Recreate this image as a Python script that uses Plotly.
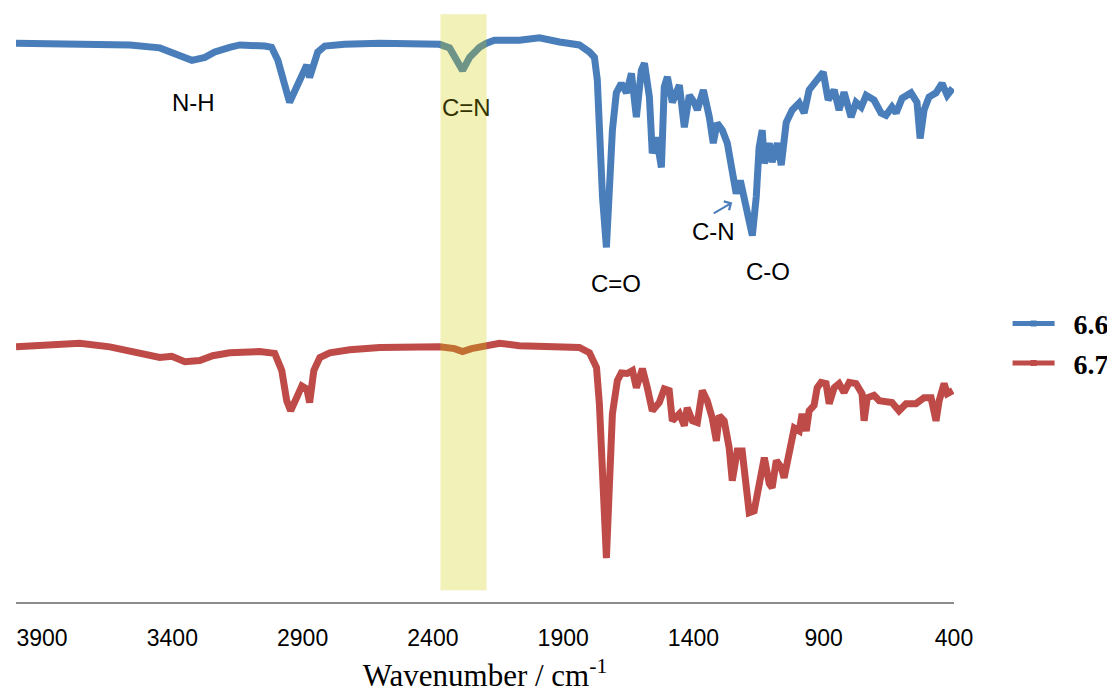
import plotly.graph_objects as go

# FTIR spectra, offset for clarity (transmittance in arbitrary units)
wn_66 = [4000, 3563, 3448, 3390, 3325, 3275, 3237, 3180, 3141, 3045, 3019, 2995,
         2969, 2950, 2923, 2900, 2884, 2873, 2857, 2842, 2815, 2739, 2604, 2374,
         2336, 2309, 2286, 2259, 2221, 2194, 2164, 2068, 1991, 1914, 1838, 1799,
         1780, 1769, 1761, 1749, 1734, 1723, 1711, 1696, 1677, 1657, 1638, 1619,
         1600, 1588, 1569, 1558, 1542, 1523, 1512, 1500, 1481, 1454, 1435, 1416,
         1397, 1385, 1362, 1339, 1324, 1309, 1289, 1270, 1251, 1236, 1220, 1205,
         1186, 1174, 1159, 1148, 1136, 1128, 1109, 1098, 1078, 1063, 1044, 1021,
         994, 975, 956, 925, 902, 883, 860, 841, 822, 795, 776, 756, 737, 707,
         680, 661, 638, 622, 599, 565, 542, 530, 515, 496, 469, 446, 426, 405]
t_66 = [94.4, 94.1, 93.6, 92.7, 91.5, 92.0, 92.9, 93.7, 94.1, 93.9, 93.7, 91.5,
        87.6, 84.4, 87.0, 89.5, 90.7, 88.6, 90.4, 92.9, 93.9, 94.2, 94.4, 94.2,
        93.6, 91.5, 89.8, 92.0, 93.7, 94.4, 94.9, 94.9, 95.3, 94.6, 94.1, 92.9,
        92.0, 88.2, 79.7, 68.4, 59.9, 68.4, 79.7, 86.0, 87.6, 86.0, 89.3, 81.9,
        89.8, 91.0, 85.3, 75.8, 78.5, 73.4, 87.0, 88.7, 84.4, 87.3, 80.2, 85.6,
        84.4, 83.1, 86.5, 81.9, 77.5, 80.9, 79.7, 77.5, 71.7, 69.0, 71.2, 67.9,
        64.0, 61.9, 68.4, 76.8, 79.7, 74.1, 77.5, 74.3, 77.5, 73.8, 81.0, 83.1,
        84.3, 82.6, 86.5, 88.2, 89.5, 84.8, 86.5, 83.1, 86.1, 81.9, 84.4, 83.6,
        85.6, 84.8, 82.6, 82.2, 83.6, 82.6, 85.1, 86.0, 84.4, 78.3, 83.1, 85.3,
        86.0, 87.6, 85.6, 86.8]

wn_67 = [4000, 3870, 3755, 3640, 3525, 3448, 3402, 3352, 3295, 3245, 3180, 3065,
         3007, 2980, 2961, 2946, 2923, 2903, 2884, 2873, 2857, 2834, 2796, 2719,
         2604, 2374, 2317, 2286, 2252, 2183, 2144, 2068, 1914, 1838, 1799, 1772,
         1761, 1749, 1734, 1723, 1711, 1692, 1677, 1654, 1634, 1619, 1596, 1577,
         1558, 1531, 1512, 1493, 1481, 1454, 1435, 1424, 1404, 1385, 1366, 1347,
         1328, 1312, 1301, 1282, 1263, 1251, 1232, 1213, 1194, 1186, 1167, 1148,
         1128, 1109, 1098, 1082, 1063, 1052, 1032, 1013, 994, 983, 967, 956,
         937, 925, 910, 891, 879, 860, 841, 822, 802, 776, 753, 745, 733,
         707, 687, 638, 611, 584, 546, 515, 488, 469, 457, 438, 426, 405]
t_67 = [43.1, 43.5, 43.7, 43.1, 42.1, 41.3, 41.5, 40.6, 40.8, 41.6, 42.1, 42.3,
        42.0, 39.1, 34.0, 32.3, 34.5, 36.5, 36.0, 33.7, 39.1, 41.3, 42.1, 42.6,
        43.0, 43.1, 42.8, 42.3, 42.8, 43.5, 43.7, 43.3, 43.1, 43.0, 42.1, 39.6,
        33.5, 19.3, 7.4, 19.3, 31.8, 37.4, 38.7, 38.6, 39.1, 36.2, 39.4, 36.2,
        32.3, 33.7, 36.0, 35.7, 30.6, 31.8, 29.8, 32.8, 30.6, 30.3, 35.7, 34.0,
        31.1, 27.2, 31.5, 30.6, 26.1, 20.5, 25.5, 25.5, 16.6, 15.1, 15.4, 20.5,
        24.4, 20.0, 19.3, 23.9, 22.7, 21.0, 26.1, 29.4, 28.9, 31.8, 28.9, 32.3,
        33.2, 36.2, 37.1, 36.9, 33.5, 36.2, 36.9, 35.4, 37.1, 36.9, 35.2, 30.6,
        34.5, 34.9, 34.0, 33.7, 32.3, 33.5, 33.5, 34.5, 34.5, 30.6, 34.0, 36.9,
        35.2, 35.7]

series_names = ["6.6", "6.7"]
tick_vals = [3900, 3400, 2900, 2400, 1900, 1400, 900, 400]

# band labels: (text, wavenumber, transmittance)
bands = [("N-H", 3320, 84.4), ("C=N", 2271, 83.6), ("C=O", 1696, 53.8),
         ("C-N", 1324, 62.6), ("C-O", 1113, 55.8)]

BLUE = "#4a7ebb"
RED = "#be4b48"

fig = go.Figure()
fig.add_trace(go.Scatter(x=wn_66, y=t_66, mode="lines", line=dict(color=BLUE, width=7),
                         showlegend=False))
fig.add_trace(go.Scatter(x=wn_67, y=t_67, mode="lines", line=dict(color=RED, width=7),
                         showlegend=False))
# legend entries (line with square marker, Excel style)
for name, col in zip(series_names, [BLUE, RED]):
    fig.add_trace(go.Scatter(x=[None], y=[None], mode="lines+markers",
                             name="\u00a0\u00a0" + name,
                             line=dict(color=col, width=5),
                             marker=dict(symbol="square", size=6, color=col)))

# highlighted nitrile band
fig.add_shape(type="rect", xref="x", yref="y", x0=2371, x1=2194, y0=2.0, y1=99.3,
              fillcolor="rgba(204,204,0,0.28)", line=dict(width=0), layer="above")

for txt, wx, ty in bands:
    fig.add_annotation(x=wx, y=ty, text=txt, showarrow=False,
                       font=dict(family="Liberation Sans, Arial", size=24,
                                 color="#333300" if txt == "C=N" else "black"))

# small arrow pointing to the C-N shoulder
fig.add_annotation(x=1251, y=67.5, ax=1328, ay=65.5, axref="x", ayref="y",
                   xref="x", yref="y", text="", showarrow=True, arrowhead=4,
                   arrowsize=1, arrowwidth=2, arrowcolor=BLUE)

# page body has an 8px margin, so the figure is 8px smaller than the window
fig.update_layout(
    width=1107, height=685,
    margin=dict(l=8, r=160, t=2, b=91),
    plot_bgcolor="white", paper_bgcolor="white",
    xaxis=dict(range=[4000, 400], tickvals=tick_vals, ticks="", showgrid=False,
               zeroline=False, showline=True, linecolor="#8c8c8c", linewidth=2,
               tickfont=dict(family="Liberation Sans, Arial", size=23, color="black"),
               ticklabelstandoff=14,
               title=dict(text="Wavenumber / cm<sup>-1</sup>", standoff=16,
                          font=dict(family="Liberation Serif, Times New Roman",
                                    size=31, color="black"))),
    yaxis=dict(range=[0, 100], visible=False),
    legend=dict(x=1.056, y=0.437, xanchor="left", yanchor="middle",
                font=dict(family="Liberation Serif, Times New Roman", size=28,
                          color="black", weight="bold"),
                itemwidth=42, bgcolor="rgba(0,0,0,0)"),
)

fig.write_html("out.html")
